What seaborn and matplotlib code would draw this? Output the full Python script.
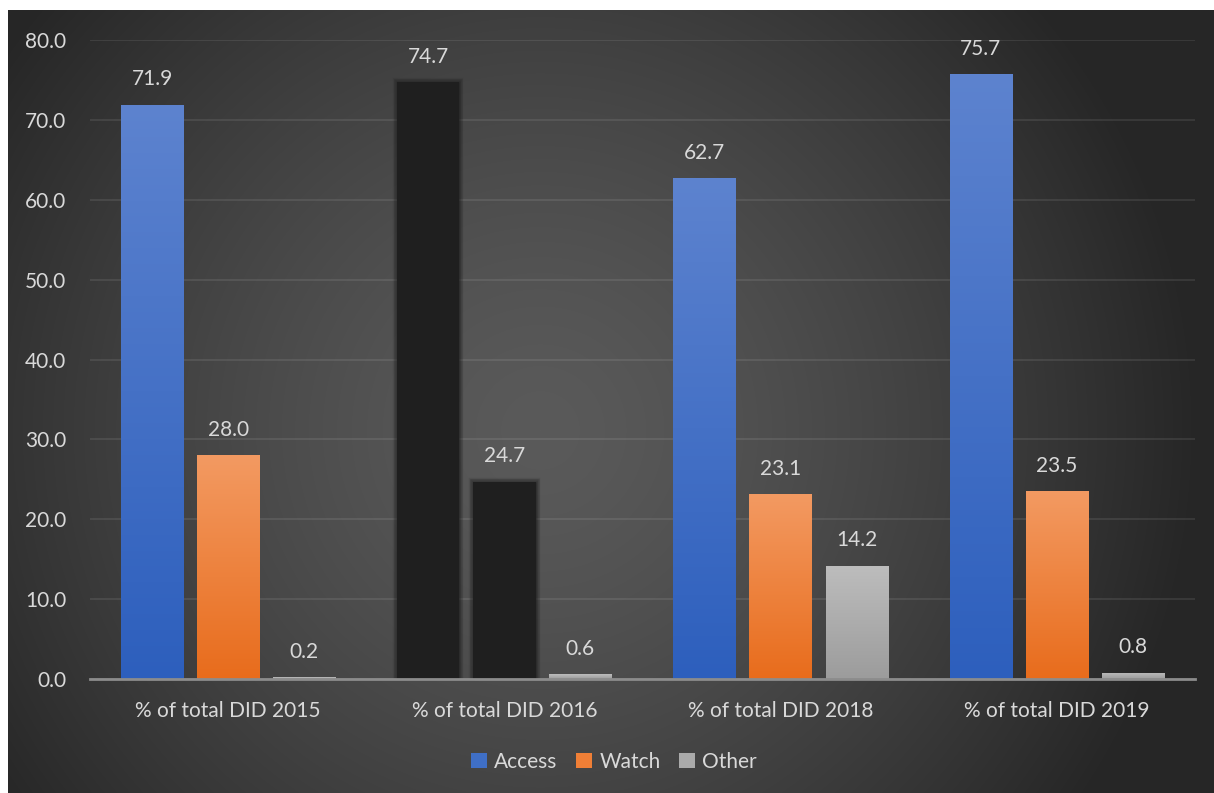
import numpy as np
import pandas as pd
import matplotlib
matplotlib.use("Agg")
import matplotlib.pyplot as plt
import seaborn as sns
from matplotlib.patches import Rectangle
import matplotlib.patheffects as pe
from matplotlib.colors import LinearSegmentedColormap

categories = ["% of total DID 2015", "% of total DID 2016", "% of total DID 2018", "% of total DID 2019"]
series = ["Access", "Watch", "Other"]
access = [71.9, 74.7, 62.7, 75.7]
watch = [28.0, 24.7, 23.1, 23.5]
other = [0.2, 0.6, 14.2, 0.8]
y_ticks = [0, 10, 20, 30, 40, 50, 60, 70, 80]

df = pd.DataFrame({
    "category": categories * 3,
    "series": [s for s in series for _ in categories],
    "value": access + watch + other,
})

sns.set_theme(style="dark")
plt.rcParams['font.family'] = ['Lato', 'DejaVu Sans']
FS = 15

W, H = 1214, 793
fig = plt.figure(figsize=(W / 100, H / 100), dpi=100)
fig.patch.set_facecolor('white')

# radial background
bgx0, bgy0 = 8, 10
bg = fig.add_axes([bgx0 / W, 0, 1 - bgx0 / W, 1 - bgy0 / H])
nx, ny = W - bgx0, H - bgy0
yy, xx = np.mgrid[0:ny, 0:nx]
cx, cy = 540 - bgx0, 430 - bgy0
r = np.sqrt((xx - cx) ** 2 + (yy - cy) ** 2)
t = np.clip(r / 660.0, 0, 1) ** 1.4
val = (90 - (90 - 38) * t) / 255.0
img = np.dstack([val, val, val])
bg.imshow(img, extent=[0, 1, 0, 1], aspect='auto', origin='upper', interpolation='bilinear')
bg.axis('off')

ax = fig.add_axes([90 / W, 1 - 679 / H, (1195 - 90) / W, (679 - 40) / H])
ax.patch.set_alpha(0)

palette = {"Access": "#4472c4", "Watch": "#ed7d31", "Other": "#a5a5a5"}
sns.barplot(data=df, x="category", y="value", hue="series", hue_order=series,
            order=categories, palette=palette, width=0.826, gap=0.18,
            ax=ax, legend=False, saturation=1)

grads = {
    "Access": ("#5d83cf", "#2d5fbd"),
    "Watch": ("#f39a62", "#e86c1c"),
    "Other": ("#bdbdbd", "#9c9c9c"),
}

ax.set_ylim(0, 80)
ax.set_xlim(-0.5, 3.5)

blur = [pe.Stroke(linewidth=lw, foreground="#1f1f1f", alpha=0.13) for lw in (6, 5, 4, 3, 2, 1)]
blur.append(pe.Normal())

for si, cont in enumerate(ax.containers):
    name = series[si]
    top_c, bot_c = grads[name]
    cmap = LinearSegmentedColormap.from_list(name, [bot_c, top_c])
    for ci, bar in enumerate(cont.patches):
        x0 = bar.get_x()
        w = bar.get_width()
        h = bar.get_height()
        if ci == 1 and name in ("Access", "Watch"):
            bar.set_facecolor("#1f1f1f")
            bar.set_edgecolor("none")
            bar.set_linewidth(0)
            bar.set_path_effects(blur)
            continue
        bar.set_facecolor("none")
        bar.set_edgecolor("none")
        grad = np.linspace(1, 0, 256).reshape(-1, 1)
        im = ax.imshow(grad, cmap=cmap, extent=[x0, x0 + w, 0, h], aspect='auto',
                       origin='upper', zorder=2, interpolation='bilinear')
        im.set_clip_path(bar)
    ax.bar_label(cont, labels=[f"{v:.1f}" for v in cont.datavalues], padding=11,
                 color="#d9d9d9", fontsize=FS)

ax.set_xlim(-0.5, 3.5)
ax.set_ylim(0, 80)
ax.set_yticks(y_ticks)
ax.set_yticklabels([f"{v:.1f}" for v in y_ticks])
ax.set_xlabel("")
ax.set_ylabel("")
ax.tick_params(axis='y', colors="#d9d9d9", labelsize=FS, pad=17, length=0)
ax.tick_params(axis='x', colors="#d9d9d9", labelsize=FS, pad=16, length=0)
ax.grid(axis='y', color="white", alpha=0.1, linewidth=1.2)
ax.grid(axis='x', visible=False)
for s in ["left", "right", "top"]:
    ax.spines[s].set_visible(False)
ax.spines["bottom"].set_color("#8c8c8c")
ax.spines["bottom"].set_linewidth(2)
ax.set_axisbelow(True)

handle_colors = ["#3f6fc6", "#f07f36", "#aaaaaa"]
handles = [Rectangle((0, 0), 1, 1, facecolor=c, edgecolor="none", linewidth=0) for c in handle_colors]
fig.legend(handles, series, loc="center", bbox_to_anchor=(614 / W, 1 - 762 / H), ncol=3,
           frameon=False, fontsize=FS, labelcolor="#d9d9d9", handlelength=0.75,
           handleheight=0.75, handletextpad=0.35, columnspacing=0.9)

fig.savefig("out.png", dpi=100, facecolor='white')
